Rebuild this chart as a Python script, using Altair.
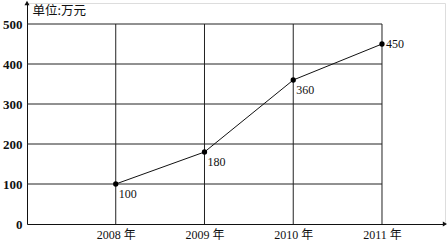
import json
import altair as alt
import pandas as pd

years = ["2008 年", "2009 年", "2010 年", "2011 年"]
positions = [1, 2, 3, 4]
values = [100, 180, 360, 450]
y_ticks = [0, 100, 200, 300, 400, 500]
unit_label = "单位:万元"

X_MAX = 4.71
Y_MAX = 552.5
SERIF = "Liberation Serif, Noto Sans CJK SC"

df = pd.DataFrame({"pos": positions, "year": years, "value": values,
                   "label": [str(v) for v in values]})
hgrid = pd.DataFrame({"y": y_ticks[1:], "x0": [0] * 5, "x1": [4] * 5})
vgrid = pd.DataFrame({"x": positions, "y0": [0] * 4, "y1": [500] * 4})
arrows = pd.DataFrame({"x": [X_MAX, 0], "y": [0, Y_MAX],
                       "shape": ["triangle-right", "triangle-up"]})

label_arr = json.dumps([""] + years, ensure_ascii=False)

xs = alt.Scale(domain=[0, X_MAX], nice=False, zero=False)
ys = alt.Scale(domain=[0, Y_MAX], nice=False)

x_axis = alt.Axis(values=positions, labelExpr=f"{label_arr}[datum.value]",
                  ticks=False, grid=False, domainColor="#111", domainWidth=1,
                  labelFont=SERIF, labelFontSize=12, labelColor="#111",
                  labelPadding=5, title=None)
y_axis = alt.Axis(values=y_ticks, ticks=False, grid=False, domainColor="#111",
                  domainWidth=1, labelFont="Liberation Serif", labelFontSize=13,
                  labelFontWeight="bold", labelColor="#111", labelPadding=5,
                  title=unit_label, titleAngle=0, titleAlign="left",
                  titleBaseline="middle", titleX=5, titleY=7,
                  titleFont="Noto Sans CJK SC", titleFontSize=12.5,
                  titleFontWeight="normal", titleColor="#111")

base_axes = alt.Chart(df).mark_point(opacity=0).encode(
    x=alt.X("pos:Q", scale=xs, axis=x_axis),
    y=alt.Y("value:Q", scale=ys, axis=y_axis),
)

h = alt.Chart(hgrid).mark_rule(color="#222", strokeWidth=1).encode(
    x=alt.X("x0:Q", scale=xs), x2="x1:Q", y=alt.Y("y:Q", scale=ys))
v = alt.Chart(vgrid).mark_rule(color="#222", strokeWidth=1).encode(
    x=alt.X("x:Q", scale=xs), y=alt.Y("y0:Q", scale=ys), y2="y1:Q")

line = alt.Chart(df).mark_line(color="#111", strokeWidth=1).encode(
    x=alt.X("pos:Q", scale=xs), y=alt.Y("value:Q", scale=ys))
pts = alt.Chart(df).mark_point(filled=True, color="#000", size=28, opacity=1).encode(
    x=alt.X("pos:Q", scale=xs), y=alt.Y("value:Q", scale=ys))

lab_low = alt.Chart(df[df.pos < 4]).mark_text(
    align="left", baseline="middle", dx=3, dy=10, font="Liberation Serif",
    fontSize=12, color="#111").encode(
    x=alt.X("pos:Q", scale=xs), y=alt.Y("value:Q", scale=ys), text="label:N")
lab_last = alt.Chart(df[df.pos == 4]).mark_text(
    align="left", baseline="middle", dx=4, dy=0, font="Liberation Serif",
    fontSize=12, color="#111").encode(
    x=alt.X("pos:Q", scale=xs), y=alt.Y("value:Q", scale=ys), text="label:N")

arr = alt.Chart(arrows).mark_point(filled=True, color="#111", size=25, opacity=1).encode(
    x=alt.X("x:Q", scale=xs), y=alt.Y("y:Q", scale=ys),
    shape=alt.Shape("shape:N", scale=None))

chart = alt.layer(base_axes, h, v, line, pts, lab_low, lab_last, arr).properties(
    width=418, height=221,
    autosize=alt.AutoSizeParams(type="none"),
    padding={"left": 27, "top": 3, "right": 2, "bottom": 18},
).configure_view(stroke=None).configure(background="white")

chart.save("out.html", embed_options={"renderer": "svg", "actions": False})
